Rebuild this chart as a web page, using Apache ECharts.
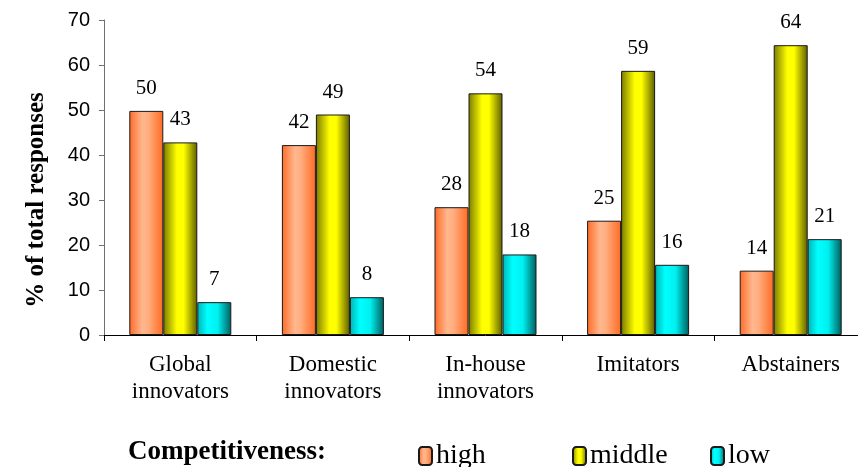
<!DOCTYPE html>
<html>
<head>
<meta charset="utf-8">
<script src="https://cdn.jsdelivr.net/npm/echarts@6/dist/echarts.min.js"></script>
<style>
html,body{margin:0;padding:0;background:#fff;overflow:hidden;width:858px;height:467px;}
#chart{width:867px;height:467px;}
</style>
</head>
<body>
<div id="chart"></div>
<script>
const categories = ['Global\ninnovators', 'Domestic\ninnovators', 'In-house\ninnovators', 'Imitators', 'Abstainers'];
const highValues = [49.8, 42.2, 28.4, 25.4, 14.3];
const middleValues = [42.8, 49.0, 53.7, 58.7, 64.4];
const lowValues = [7.3, 8.4, 17.9, 15.6, 21.3];
const yTicks = [0, 10, 20, 30, 40, 50, 60, 70];

function grad(stops) {
  return new echarts.graphic.LinearGradient(0, 0, 1, 0, stops.map(s => ({offset: s[0], color: s[1]})));
}
const highColor = grad([[0, '#FF6A26'], [0.38, '#FFB78E'], [0.55, '#FFAE80'], [1, '#FF6A22']]);
const middleColor = grad([[0, '#7A7A00'], [0.4, '#FFFF00'], [0.6, '#FFFF00'], [1, '#5C5C00']]);
const lowColor = grad([[0, '#00B4B4'], [0.3, '#00FFFF'], [0.6, '#00F0F0'], [1, '#005C5C']]);

const serif = '"Liberation Serif", "Times New Roman", serif';
const labelStyle = {
  show: true, position: 'top', distance: 12,
  fontFamily: serif, fontSize: 21, color: '#000',
  formatter: p => Math.round(p.value)
};
function series(name, data, color) {
  return {
    name: name, type: 'bar', data: data, barWidth: 34, barGap: '0%',
    itemStyle: {color: color, borderColor: '#1a1a1a', borderWidth: 1},
    label: labelStyle, emphasis: {disabled: true}
  };
}
const chart = echarts.init(document.getElementById('chart'));
chart.setOption({
  animation: false,
  title: {
    text: 'Competitiveness:', left: 128, top: 439, padding: 0,
    textStyle: {fontFamily: serif, fontWeight: 'bold', fontSize: 27, color: '#000'}
  },
  graphic: [{
    type: 'text', x: 37, y: 200, rotation: Math.PI / 2,
    style: {
      text: '% of total responses', fontFamily: serif, fontWeight: 'bold', fontSize: 25,
      fill: '#000', align: 'center', verticalAlign: 'middle'
    }
  }],
  legend: [
    {data: ['high'], left: 418},
    {data: ['middle'], left: 572},
    {data: ['low'], left: 710}
  ].map(l => Object.assign(l, {
    top: 442, padding: 0, itemWidth: 13, itemHeight: 18, itemGap: 0, selectedMode: false,
    textStyle: {fontFamily: serif, fontSize: 28, color: '#000', padding: [0, 0, 0, -1]}
  })),
  grid: {left: 104, right: 0, top: 20, bottom: 132, containLabel: false},
  xAxis: {
    type: 'category', data: categories,
    axisLine: {lineStyle: {color: '#000', width: 1}},
    axisTick: {show: true, length: 6, lineStyle: {color: '#000'}},
    axisLabel: {fontFamily: serif, fontSize: 23, color: '#000', margin: 16, lineHeight: 27, interval: 0}
  },
  yAxis: {
    type: 'value', min: yTicks[0], max: yTicks[yTicks.length - 1], interval: 10,
    axisLine: {show: true, lineStyle: {color: '#707070', width: 1}},
    axisTick: {show: true, length: 5, lineStyle: {color: '#707070'}},
    splitLine: {show: false},
    axisLabel: {fontFamily: '"Liberation Sans", Arial, sans-serif', fontSize: 20, color: '#000', margin: 14}
  },
  series: [
    series('high', highValues, highColor),
    series('middle', middleValues, middleColor),
    series('low', lowValues, lowColor)
  ]
});
</script>
</body>
</html>
